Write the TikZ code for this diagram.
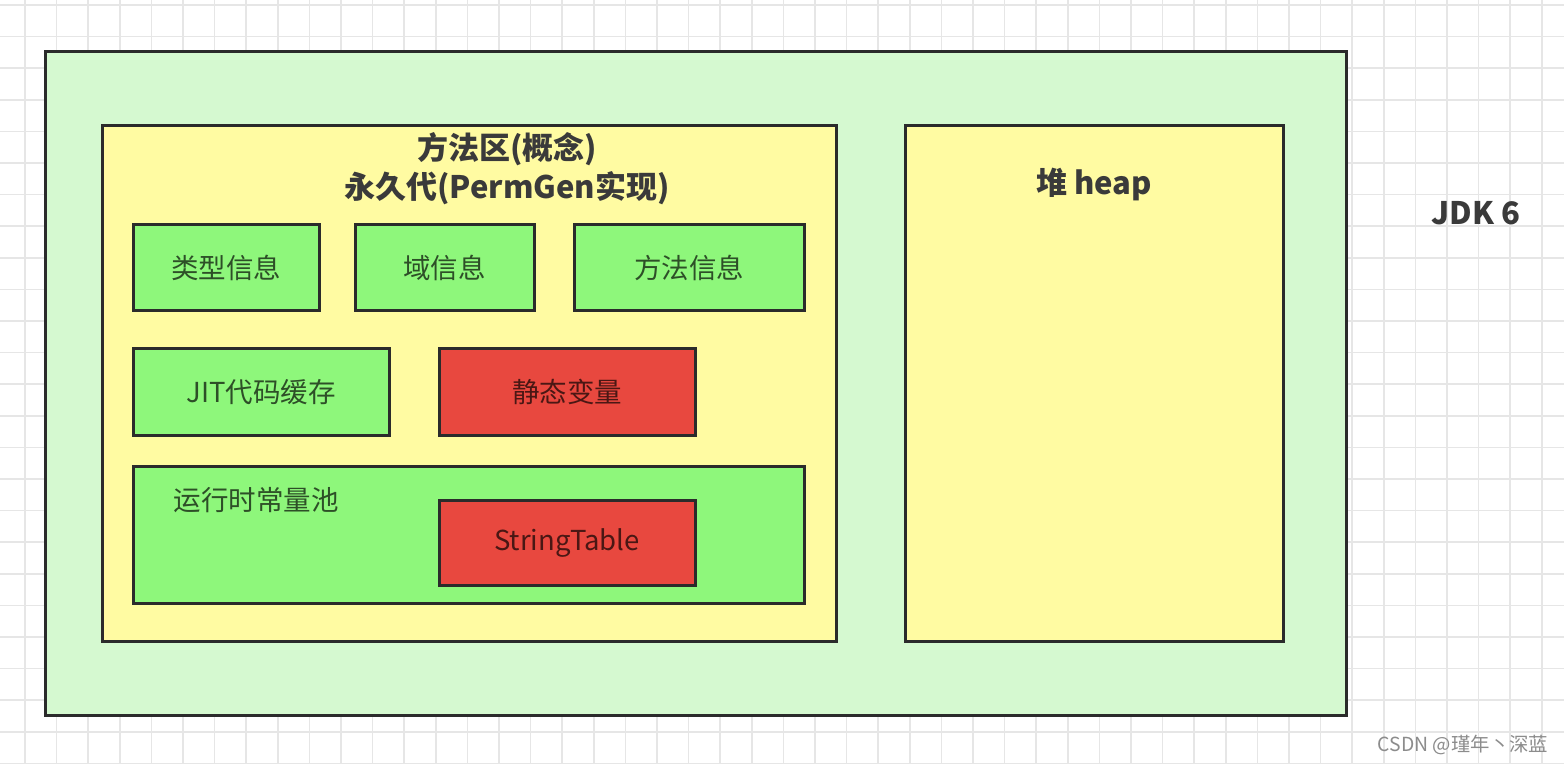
\documentclass[tikz,border=0pt]{standalone}
\usepackage{fontspec}
\setmainfont{Noto Sans CJK SC}
\newfontfamily\cjk{Noto Sans CJK SC}
\definecolor{gridc}{HTML}{E6E6E6}
\definecolor{outerc}{HTML}{D5F9D0}
\definecolor{yelc}{HTML}{FFFBA2}
\definecolor{grnc}{HTML}{8EF77B}
\definecolor{redc}{HTML}{E8483F}
\definecolor{edgec}{HTML}{2B2B2B}
\definecolor{txtc}{HTML}{3A3A3A}
\tikzset{
  boxstyle/.style={draw=edgec, line width=3pt},
  lbl/.style={font=\cjk\fontsize{27.5}{32}\selectfont, text=black, text opacity=0.68, inner sep=0pt},
  ttl/.style={font=\cjk\bfseries\fontsize{31}{36}\selectfont, text=txtc, inner sep=0pt},
}
\begin{document}
\begin{tikzpicture}[x=1pt,y=-1pt]
\useasboundingbox (0,0) rectangle (1564,764);
\fill[white] (0,0) rectangle (1564,764);
% grid
\foreach \i in {0,...,49} {\draw[gridc, line width=1.5pt] ({25+31.6*\i},0) -- ({25+31.6*\i},764);}
\foreach \j in {0,...,24} {\draw[gridc, line width=1.5pt] (0,{5+31.6*\j}) -- (1564,{5+31.6*\j});}
% outer
\draw[boxstyle, fill=outerc] (45,51) rectangle (1346,715);
\node[ttl] (jdk) at (1476,213) {JDK 6};
% method area
\draw[boxstyle, fill=yelc] (102,125) rectangle (836,641);
\node[ttl] (t1) at (507,149) {方法区(概念)};
\node[ttl] (t2) at (507,188) {永久代(PermGen实现)};
% heap
\draw[boxstyle, fill=yelc] (905,125) rectangle (1283,641);
\node[ttl] (heap) at (1094,184) {堆 heap};
% inner boxes
\draw[boxstyle, fill=grnc] (133,224) rectangle (319,310);
\node[lbl] (type) at (226,268) {类型信息};
\draw[boxstyle, fill=grnc] (355,224) rectangle (534,310);
\node[lbl] (field) at (444.5,268) {域信息};
\draw[boxstyle, fill=grnc] (574,224) rectangle (804,310);
\node[lbl] (meth) at (689,268) {方法信息};
\draw[boxstyle, fill=grnc] (133,348) rectangle (389,435);
\node[lbl] (jit) at (261,392) {JIT代码缓存};
\draw[boxstyle, fill=redc] (439,348) rectangle (695,435);
\node[lbl] (stat) at (567,392) {静态变量};
\draw[boxstyle, fill=grnc] (133,466) rectangle (804,603);
\node[lbl] (pool) at (256,500) {运行时常量池};
\draw[boxstyle, fill=redc] (439,500) rectangle (695,585);
\node[lbl] (st) at (567,543) {StringTable};
% watermark
\node[font=\cjk\fontsize{19.4}{23}\selectfont, text=black!45, inner sep=0pt] (wm) at (1463,745) {CSDN @瑾年丶深蓝};
\end{tikzpicture}
\end{document}
